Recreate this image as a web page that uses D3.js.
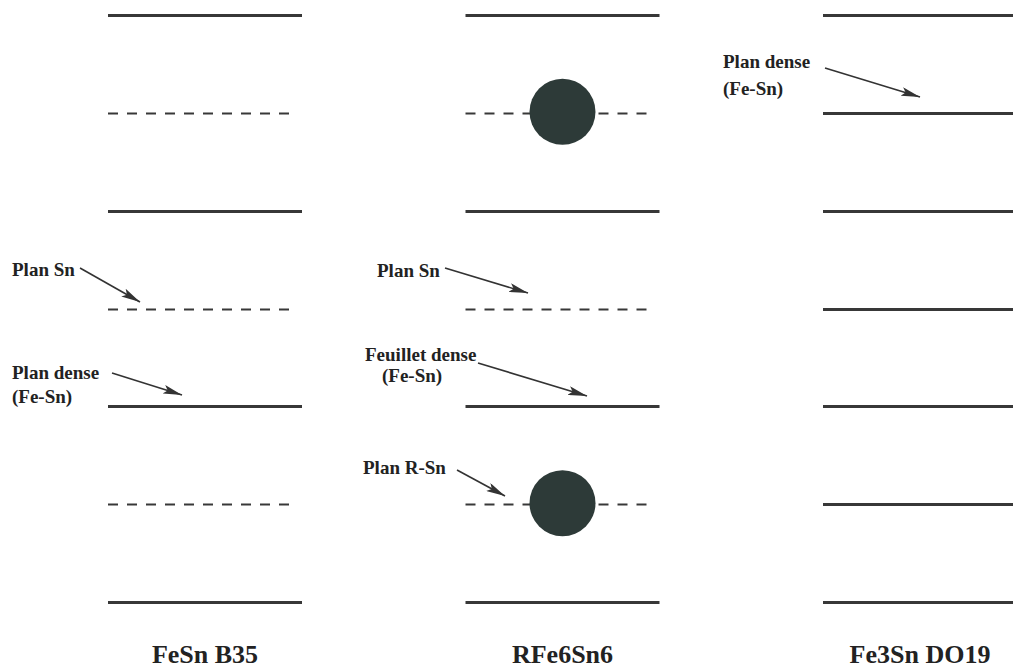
<!DOCTYPE html>
<html><head><meta charset="utf-8">
<script src="https://cdn.jsdelivr.net/npm/d3@7/dist/d3.min.js"></script>
<style>body{margin:0;background:#fff}svg{display:block}</style>
</head><body>
<script>
// Structures (columns) and their titles
const columns = ["FeSn B35", "RFe6Sn6", "Fe3Sn DO19"];
// Layer index (0 = top) and type for each column
const layers = [0, 1, 2, 3, 4, 5, 6];
const typesFeSn = ["solid", "dashed", "solid", "dashed", "solid", "dashed", "solid"];
const typesRFe6Sn6 = ["solid", "dashed", "solid", "dashed", "solid", "dashed", "solid"];
const typesFe3Sn = ["solid", "solid", "solid", "solid", "solid", "solid", "solid"];
// R atoms in RFe6Sn6 sit on these layers
const atomLayers = [1, 5];
// Annotations (positions in column-offset pixels and layer units)
const annotations = [
  {col: "FeSn B35", lines: ["Plan Sn"], dx: [-193], ly: 2.668, gap: 0, from: [-125, 2.586], to: [-65, 2.934]},
  {col: "FeSn B35", lines: ["Plan dense", "(Fe-Sn)"], dx: [-193, -193], ly: 3.721, gap: 24, from: [-93, 3.659], to: [-23, 3.884]},
  {col: "RFe6Sn6", lines: ["Plan Sn"], dx: [-185.5], ly: 2.678, gap: 0, from: [-117.5, 2.586], to: [-34.5, 2.842]},
  {col: "RFe6Sn6", lines: ["Feuillet dense", "(Fe-Sn)"], dx: [-197.5, -180.5], ly: 3.537, gap: 21, from: [-84.5, 3.557], to: [24.5, 3.895]},
  {col: "RFe6Sn6", lines: ["Plan R-Sn"], dx: [-199.5], ly: 4.692, gap: 0, from: [-105.5, 4.651], to: [-57.5, 4.917]},
  {col: "Fe3Sn DO19", lines: ["Plan dense", "(Fe-Sn)"], dx: [-197, -197], ly: 0.542, gap: 27, from: [-95, 0.542], to: [0, 0.838]}
];

const W = 1013, H = 672;
const svg = d3.select("body").append("svg").attr("width", W).attr("height", H);

const x = d3.scalePoint().domain(columns).range([205, 920]);
const y = d3.scaleLinear().domain([0, 6]).range([15, 602]);
const halfW = 97;
const serif = "Liberation Serif, Times New Roman, serif";

const defs = svg.append("defs");
defs.append("marker").attr("id", "ah").attr("viewBox", "0 0 19 9")
  .attr("refX", 19).attr("refY", 4.5).attr("markerWidth", 19).attr("markerHeight", 9)
  .attr("markerUnits", "userSpaceOnUse").attr("orient", "auto")
  .append("path").attr("d", "M0,0 L19,4.5 L0,9 L4,4.5 Z").attr("fill", "#333");

const typeMap = {"FeSn B35": typesFeSn, "RFe6Sn6": typesRFe6Sn6, "Fe3Sn DO19": typesFe3Sn};
const lineColor = "#383838";

columns.forEach(c => {
  const g = svg.append("g");
  const cx = x(c);
  g.selectAll("line").data(layers).join("line")
    .attr("x1", cx - halfW)
    .attr("x2", d => typeMap[c][d] === "solid" ? cx + halfW : cx + halfW - 8)
    .attr("y1", d => Math.round(y(d)) + 0.5).attr("y2", d => Math.round(y(d)) + 0.5)
    .attr("stroke", lineColor)
    .attr("stroke-width", d => typeMap[c][d] === "solid" ? 3 : 2)
    .attr("stroke-dasharray", d => typeMap[c][d] === "solid" ? null : "10,9");
  svg.append("text").attr("x", cx).attr("y", 663)
    .attr("text-anchor", "middle")
    .attr("font-family", serif)
    .attr("font-weight", "bold").attr("font-size", 26).attr("fill", "#222")
    .text(c);
});

svg.selectAll("circle.atom").data(atomLayers).join("circle")
  .attr("class", "atom")
  .attr("cx", x("RFe6Sn6")).attr("cy", d => y(d) - 1).attr("r", 33)
  .attr("fill", "#2d3a38");

annotations.forEach(a => {
  const cx = x(a.col);
  const t = svg.append("text")
    .attr("font-family", serif)
    .attr("font-weight", "bold").attr("font-size", 19).attr("fill", "#222");
  a.lines.forEach((l, i) => {
    t.append("tspan").attr("x", cx + a.dx[i]).attr("y", y(a.ly) + i * a.gap).text(l);
  });
  svg.append("line")
    .attr("x1", cx + a.from[0]).attr("y1", y(a.from[1]))
    .attr("x2", cx + a.to[0]).attr("y2", y(a.to[1]))
    .attr("stroke", "#333").attr("stroke-width", 1.6)
    .attr("marker-end", "url(#ah)");
});
</script>
</body></html>
